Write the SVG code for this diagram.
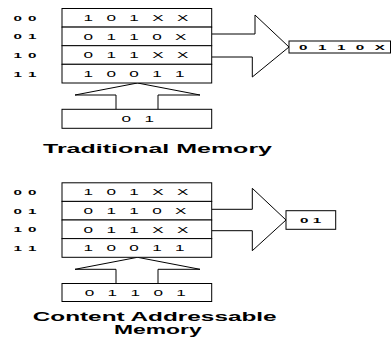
<svg xmlns="http://www.w3.org/2000/svg" width="391" height="337" viewBox="0 0 391 337">
  <style>
    .box { fill: #fff; stroke: #000; stroke-width: 1; }
    .arrow { fill: #fff; stroke: #000; stroke-width: 1; stroke-linejoin: miter; }
    text { font-family: "Liberation Sans", Arial, sans-serif; fill: #000; }
    .cell { font-size: 9.5px; letter-spacing: 2.4px; }
    .addr { font-size: 8px; font-weight: bold; letter-spacing: 0.45px; }
    .out { font-size: 8px; font-weight: bold; }
    .title { font-size: 13.5px; font-weight: bold; }
  </style>
  <rect width="391" height="337" fill="#fff"/>

  <!-- block arrows between memory, input and output -->
  <g id="connectors">
    <path class="arrow" d="M116,109.3 V95 H75 L137.5,83 L200,95 H158 V109.3"/>
    <path class="arrow" d="M212,34 H255 V15 L289,47 L252.3,77 V57 H212"/>
    <path class="arrow" d="M116,283.5 V269.3 H75 L137.5,257.3 L200,269.3 H158 V283.5"/>
    <path class="arrow" d="M212,209.3 H252.3 V188.3 L286,220 L252.3,250.7 V230.7 H212"/>
  </g>

  <!-- traditional memory -->
  <g id="addresses-1">
    <text class="addr" transform="translate(13.6 20.8) scale(1.9 1)">0 0</text>
    <text class="addr" transform="translate(13.6 39.4) scale(1.9 1)">0 1</text>
    <text class="addr" transform="translate(13.6 58) scale(1.9 1)">1 0</text>
    <text class="addr" transform="translate(13.6 76.6) scale(1.9 1)">1 1</text>
  </g>
  <g id="memory-1">
    <rect class="box" x="62" y="8.5" width="149.7" height="18.6"/>
    <rect class="box" x="62" y="27.1" width="149.7" height="18.6"/>
    <rect class="box" x="62" y="45.7" width="149.7" height="18.6"/>
    <rect class="box" x="62" y="64.3" width="149.7" height="18.7"/>
    <text class="cell" transform="translate(83.5 21) scale(1.8 1)">1 0 1 X X</text>
    <text class="cell" transform="translate(83.5 39.6) scale(1.8 1)">0 1 1 0 X</text>
    <text class="cell" transform="translate(83.5 58.2) scale(1.8 1)">0 1 1 X X</text>
    <text class="cell" transform="translate(83.5 76.8) scale(1.8 1)">1 0 0 1 1</text>
  </g>
  <g id="input-1">
    <rect class="box" x="62" y="109.3" width="149.7" height="19"/>
    <text class="cell" transform="translate(121.5 121.7) scale(1.8 1)">0 1</text>
  </g>
  <g id="output-1">
    <rect class="box" x="289" y="41" width="101.5" height="12"/>
    <text class="out" letter-spacing="1.65" transform="translate(299.1 49.5) scale(1.9 1)">0 1 1 0 X</text>
  </g>
  <g id="title-1">
    <text class="title" x="43" y="153.3" textLength="229" lengthAdjust="spacingAndGlyphs">Traditional Memory</text>
  </g>

  <!-- content addressable memory -->
  <g id="addresses-2">
    <text class="addr" transform="translate(13.6 195.1) scale(1.9 1)">0 0</text>
    <text class="addr" transform="translate(13.6 213.7) scale(1.9 1)">0 1</text>
    <text class="addr" transform="translate(13.6 232.3) scale(1.9 1)">1 0</text>
    <text class="addr" transform="translate(13.6 250.9) scale(1.9 1)">1 1</text>
  </g>
  <g id="memory-2">
    <rect class="box" x="62" y="182.8" width="149.7" height="18.6"/>
    <rect class="box" x="62" y="201.4" width="149.7" height="18.6"/>
    <rect class="box" x="62" y="220" width="149.7" height="18.6"/>
    <rect class="box" x="62" y="238.6" width="149.7" height="18.7"/>
    <text class="cell" transform="translate(83.5 195.3) scale(1.8 1)">1 0 1 X X</text>
    <text class="cell" transform="translate(83.5 213.9) scale(1.8 1)">0 1 1 0 X</text>
    <text class="cell" transform="translate(83.5 232.5) scale(1.8 1)">0 1 1 X X</text>
    <text class="cell" transform="translate(83.5 251.1) scale(1.8 1)">1 0 0 1 1</text>
  </g>
  <g id="input-2">
    <rect class="box" x="62" y="283.5" width="149.7" height="18"/>
    <text class="cell" transform="translate(84.7 296) scale(1.8 1)">0 1 1 0 1</text>
  </g>
  <g id="output-2">
    <rect class="box" x="286" y="210.7" width="49.7" height="18.6"/>
    <text class="out" transform="translate(300 222.8) scale(1.9 1)">0 1</text>
  </g>
  <g id="title-2">
    <text class="title" x="32.7" y="320.7" textLength="244" lengthAdjust="spacingAndGlyphs">Content Addressable</text>
    <text class="title" x="114" y="334.3" textLength="87.7" lengthAdjust="spacingAndGlyphs">Memory</text>
  </g>
</svg>
